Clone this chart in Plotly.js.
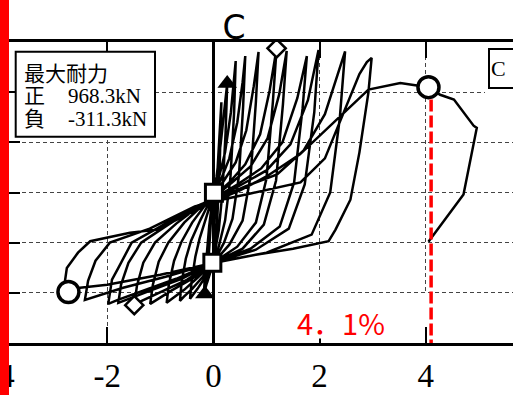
<!DOCTYPE html>
<html>
<head>
<meta charset="utf-8">
<script src="https://cdn.plot.ly/plotly-3.0.1.min.js"></script>
<style>
  html, body { margin: 0; padding: 0; overflow: hidden; background: #fff; }
  #chart { width: 542px; height: 395px; }
</style>
</head>
<body>
<div id="chart"></div>
<script>
// Drift (%) and load (kN), one array pair per loading cycle
const cycle1X = [0, 0.05, 0.1, 0.15, 0.12, 0.07, 0.0, -0.06, -0.12, -0.1, -0.06, -0.03];
const cycle1Y = [0, 250, 500, 700, 400, 100, -80, -150, -200, -100, 50, 180];
const cycle2X = [0, 0.06, 0.14, 0.22, 0.26, 0.23, 0.17, 0.1, 0.0, -0.08, -0.15, -0.18, -0.16, -0.12, -0.08, -0.03];
const cycle2Y = [230, 330, 500, 700, 793, 550, 250, 60, -90, -160, -220, -256, -170, -40, 80, 190];
const cycle3X = [0, 0.1, 0.22, 0.33, 0.39, 0.42, 0.39, 0.32, 0.22, 0.1, 0, -0.15, -0.3, -0.41, -0.44, -0.41, -0.34, -0.26, -0.15, -0.06];
const cycle3Y = [240, 320, 450, 650, 820, 905, 650, 320, 110, -20, -95, -170, -230, -265, -280, -190, -70, 20, 110, 190];
const cycle4X = [0, 0.15, 0.3, 0.45, 0.55, 0.6, 0.56, 0.48, 0.36, 0.2, 0, -0.2, -0.4, -0.56, -0.63, -0.6, -0.52, -0.42, -0.25, -0.08];
const cycle4Y = [240, 320, 420, 600, 800, 930, 680, 330, 120, 0, -100, -170, -230, -270, -290, -200, -80, 10, 110, 200];
const cycle5X = [0, 0.2, 0.42, 0.62, 0.76, 0.85, 0.8, 0.7, 0.55, 0.3, 0, -0.3, -0.55, -0.78, -0.88, -0.84, -0.74, -0.6, -0.4, -0.12];
const cycle5Y = [235, 310, 400, 560, 780, 950, 700, 330, 110, -10, -100, -175, -235, -280, -300, -210, -90, 5, 100, 200];
const cycle6X = [0, 0.3, 0.6, 0.88, 1.06, 1.19, 1.12, 1.0, 0.8, 0.45, 0, -0.4, -0.8, -1.08, -1.19, -1.14, -1.03, -0.85, -0.55, -0.15];
const cycle6Y = [230, 300, 390, 540, 760, 968.3, 700, 320, 100, -20, -100, -180, -240, -285, -305, -210, -95, 0, 100, 200];
const cycle7X = [0, 0.35, 0.7, 1.02, 1.24, 1.38, 1.31, 1.18, 0.95, 0.55, 0, -0.5, -1.0, -1.35, -1.49, -1.44, -1.32, -1.1, -0.7, -0.2];
const cycle7Y = [225, 300, 380, 520, 740, 955, 690, 310, 90, -30, -100, -185, -245, -290, -311.3, -215, -100, 0, 95, 195];
const cycle8X = [0, 0.45, 0.9, 1.3, 1.58, 1.76, 1.68, 1.52, 1.25, 0.7, 0, -0.6, -1.2, -1.62, -1.79, -1.74, -1.6, -1.36, -0.85, -0.25];
const cycle8Y = [220, 290, 370, 500, 720, 930, 670, 300, 80, -30, -100, -180, -240, -285, -300, -210, -100, 0, 90, 190];
const cycle9X = [0, 0.5, 1.0, 1.45, 1.78, 1.98, 1.9, 1.72, 1.42, 0.8, 0, -0.7, -1.35, -1.8, -1.98, -1.91, -1.79, -1.54, -1.0, -0.3];
const cycle9Y = [215, 285, 360, 490, 710, 960, 650, 290, 70, -35, -100, -180, -240, -285, -305, -184, -126, 0, 80, 185];
const cycle10X = [0, 0.6, 1.2, 1.7, 2.1, 2.35, 2.48, 2.38, 2.2, 1.85, 1.0, 0, -0.9, -1.7, -2.2, -2.42, -2.36, -2.22, -1.95, -1.2, -0.35];
const cycle10Y = [210, 280, 340, 460, 640, 850, 953, 620, 250, 40, -50, -100, -170, -225, -265, -285, -190, -90, 0, 70, 180];
const cycle11X = [0, 0.7, 1.3, 1.64, 2.1, 2.45, 2.75, 2.89, 2.98, 2.92, 2.75, 2.58, 2.3, 2.17, 1.5, 0.8, 0, -1.0, -2.0, -2.51, -2.73, -2.8, -2.76, -2.55, -2.32, -1.57, -1.07, -0.56, -0.06];
const cycle11Y = [205, 245, 280, 300, 420, 650, 840, 900, 921, 750, 450, 214, 65, 7, -30, -60, -101, -160, -210, -225, -246, -200, -126, -50, 7, 49, 65, 131, 198];
const cycle12X = [0.5, 1.0, 1.63, 2.26, 2.92, 3.52, 4.05, 4.27, 4.53, 4.90, 4.96, 4.71, 4.05];
const cycle12Y = [260, 330, 440, 597, 763, 796, 775, 737, 713, 583, 572, 240, 5];

// Marked points
const maxX = [1.19, -1.49];          // maximum strength (diamonds)
const maxY = [968.3, -311.3];
const ultX = [4.05, -2.73];          // ultimate points (circles)
const ultY = [775, -246];
const yieldX = [0.26, -0.16];        // yield points (triangles)
const yieldY = [793, -256];
const crackX = [0.01, -0.02];        // squares on the zero-drift line
const crackY = [249, -100];

const ultimateDrift = 4.1;
const xTickVals = [-4, -2, 0, 2, 4];
const xTickText = ['-4', '-2', '0', '2', '4'];

const loopX = [].concat(cycle1X, cycle2X, cycle3X, cycle4X, cycle5X, cycle6X,
  cycle7X, cycle8X, cycle9X, cycle10X, cycle11X, cycle12X);
const loopY = [].concat(cycle1Y, cycle2Y, cycle3Y, cycle4Y, cycle5Y, cycle6Y,
  cycle7Y, cycle8Y, cycle9Y, cycle10Y, cycle11Y, cycle12Y);

// page-pixel helpers for decorations
const L = 1, T = 42, W = 531, H = 301;
const px = x => (x - L) / W;
const py = y => (T + H - y) / H;

const serif = 'Liberation Serif, "Noto Sans CJK JP", serif';

const traces = [
  { x: loopX, y: loopY, mode: 'lines', line: { color: '#000', width: 2.5 }, hoverinfo: 'skip' },
  { x: yieldX, y: yieldY, mode: 'markers',
    marker: { symbol: 'triangle-up', size: 17, color: '#000' } },
  { x: crackX, y: crackY, mode: 'markers',
    marker: { symbol: 'square', size: 17, color: '#fff', line: { color: '#000', width: 3 } } },
  { x: maxX, y: maxY, mode: 'markers',
    marker: { symbol: 'diamond', size: 14, color: '#fff', line: { color: '#000', width: 2.5 } } },
  { x: ultX, y: ultY, mode: 'markers',
    marker: { symbol: 'circle', size: 21, color: '#fff', line: { color: '#000', width: 3.5 } } }
];

const layout = {
  width: 542, height: 395,
  margin: { l: L, r: 10, t: T, b: 395 - T - H },
  paper_bgcolor: '#fff', plot_bgcolor: '#fff',
  showlegend: false,
  title: { text: 'C', x: 234 / 542, xanchor: 'center', y: 1 - 27 / 395, yanchor: 'middle',
           font: { family: 'DejaVu Sans, sans-serif', size: 33, color: '#000' } },
  xaxis: {
    range: [-4, 6], tickvals: xTickVals, ticktext: xTickText,
    ticks: 'inside', ticklen: 16, tickwidth: 2, tickcolor: '#000',
    ticklabeloverflow: 'allow', ticklabelstandoff: 2,
    showline: true, linecolor: '#000', linewidth: 2.7, mirror: 'ticks',
    showgrid: true, gridcolor: '#444', gridwidth: 1, griddash: '4px,3px',
    zeroline: true, zerolinecolor: '#000', zerolinewidth: 2.5,
    tickfont: { family: serif, size: 33, color: '#000' },
    fixedrange: true
  },
  yaxis: {
    range: [-500, 1000], dtick: 250, showticklabels: false,
    ticks: 'inside', ticklen: 19, tickwidth: 2, tickcolor: '#000',
    showline: true, linecolor: '#000', linewidth: 2.7, mirror: 'ticks',
    showgrid: true, gridcolor: '#444', gridwidth: 1, griddash: '4px,3px',
    zeroline: false, fixedrange: true
  },
  shapes: [
    // white backing behind the drift label
    { type: 'rect', xref: 'paper', yref: 'paper', x0: px(290), x1: px(427.5), y0: py(327), y1: py(294),
      fillcolor: '#fff', line: { width: 0 }, layer: 'above' },
    { type: 'rect', xref: 'paper', yref: 'paper', x0: px(290), x1: px(400), y0: py(338.5), y1: py(294),
      fillcolor: '#fff', line: { width: 0 }, layer: 'above' },
    { type: 'line', xref: 'x', yref: 'y', x0: ultimateDrift, x1: ultimateDrift, y0: 713, y1: -500,
      line: { color: '#ff0000', width: 3.5, dash: '12px,4px' }, layer: 'above' },
    { type: 'rect', xref: 'paper', yref: 'paper', x0: px(15.7), x1: px(155), y0: py(136.7), y1: py(51.7),
      fillcolor: '#fff', line: { color: '#000', width: 2 }, layer: 'above' },
    { type: 'rect', xref: 'paper', yref: 'paper', x0: px(485), x1: px(545), y0: py(97), y1: py(45),
      fillcolor: '#fff', line: { width: 0 }, layer: 'above' },
    { type: 'rect', xref: 'paper', yref: 'paper', x0: px(-2), x1: px(9), y0: py(396), y1: py(-1),
      fillcolor: '#ff0000', line: { width: 0 }, layer: 'above' }
  ],
  annotations: [
    { text: '最大耐力', xref: 'paper', yref: 'paper', x: px(22), y: py(74), xanchor: 'left', yanchor: 'middle',
      showarrow: false, font: { family: serif, size: 21, color: '#000' } },
    { text: '正', xref: 'paper', yref: 'paper', x: px(22), y: py(96), xanchor: 'left', yanchor: 'middle',
      showarrow: false, font: { family: serif, size: 21, color: '#000' } },
    { text: '968.3kN', xref: 'paper', yref: 'paper', x: px(66), y: py(96), xanchor: 'left', yanchor: 'middle',
      showarrow: false, font: { family: serif, size: 21, color: '#000' } },
    { text: '負', xref: 'paper', yref: 'paper', x: px(22), y: py(119), xanchor: 'left', yanchor: 'middle',
      showarrow: false, font: { family: serif, size: 21, color: '#000' } },
    { text: '-311.3kN', xref: 'paper', yref: 'paper', x: px(66), y: py(119), xanchor: 'left', yanchor: 'middle',
      showarrow: false, font: { family: serif, size: 21, color: '#000' } },
    { text: 'C', xref: 'paper', yref: 'paper', x: px(487.5), y: py(48), xanchor: 'left', yanchor: 'top',
      showarrow: false, width: 50, height: 35, align: 'left', valign: 'middle',
      bgcolor: '#fff', bordercolor: '#000', borderwidth: 2, borderpad: 1,
      font: { family: serif, size: 22, color: '#000' } },
    { text: '4．1%', xref: 'paper', yref: 'paper', x: px(295), y: py(322), xanchor: 'left', yanchor: 'middle',
      showarrow: false,
      font: { family: '"Noto Sans CJK JP", sans-serif', size: 29, color: '#ff0000' } }
  ]
};

Plotly.newPlot('chart', traces, layout, { staticPlot: true, displayModeBar: false });
</script>
</body>
</html>
